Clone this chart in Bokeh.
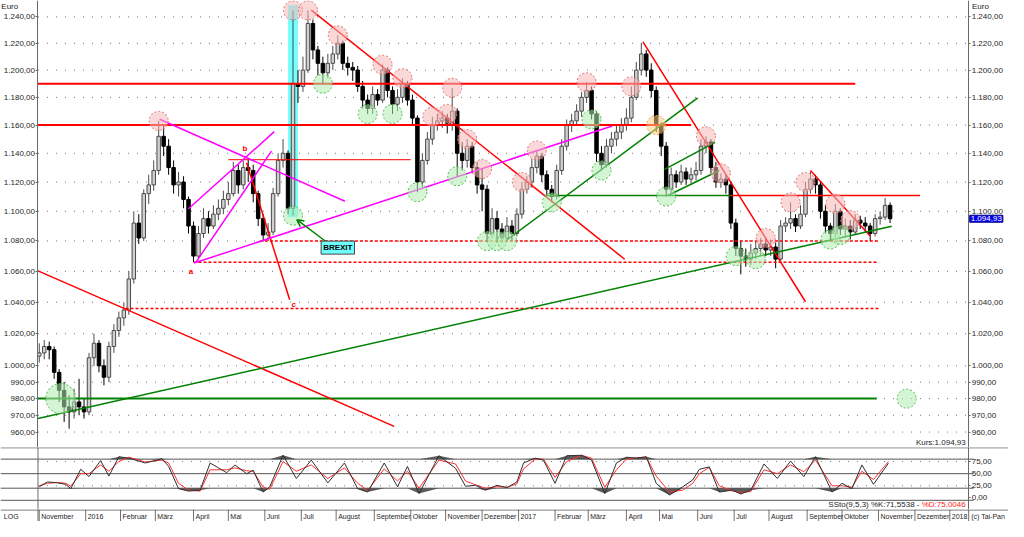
import numpy as np
import pandas as pd
from bokeh.plotting import figure
from bokeh.layouts import column
from bokeh.models import (Range1d, FixedTicker, LogAxis, LinearAxis, Label, Span,
                          Arrow, OpenHead, ColumnDataSource)
from bokeh.core.properties import value
from bokeh.embed import file_html
from bokeh.resources import INLINE

FONT = "Liberation Sans"

# ---------------- data ----------------
first_session = "2015-11-24"
bar_step = 3            # trading sessions per drawn bar
open_first = 1006
close = [
    1008, 1012, 1010, 996, 985, 975, 972, 978, 975, 972,
    1005, 1014, 1000, 993, 1012, 1022, 1030, 1035, 1055, 1092,
    1082, 1112, 1118, 1128, 1152, 1145, 1130, 1118, 1120, 1108,
    1090, 1070, 1085, 1095, 1090, 1098, 1102, 1108, 1112, 1128,
    1118, 1130, 1128, 1112, 1095, 1084, 1086, 1112, 1135, 1140,
    1102, 1190, 1188, 1200, 1235, 1215, 1205, 1198, 1205, 1212,
    1220, 1205, 1202, 1200, 1188, 1178, 1172, 1182, 1178, 1200,
    1185, 1175, 1180, 1190, 1178, 1165, 1120, 1135, 1150, 1160,
    1163, 1165, 1160, 1170, 1140, 1135, 1145, 1130, 1118, 1115,
    1085, 1095, 1088, 1082, 1090, 1085, 1098, 1115, 1120, 1130,
    1138, 1125, 1115, 1110, 1128, 1145, 1160, 1163, 1170, 1180,
    1185, 1168, 1140, 1132, 1145, 1150, 1155, 1160, 1165, 1180,
    1200, 1212, 1200, 1185, 1160, 1145, 1115, 1125, 1120, 1127,
    1122, 1125, 1128, 1145, 1148, 1130, 1120, 1122, 1118, 1092,
    1075, 1070, 1068, 1072, 1075, 1078, 1074, 1076, 1068, 1090,
    1092, 1095, 1090, 1098, 1115, 1122, 1118, 1100, 1090, 1085,
    1100, 1088, 1090, 1086, 1094, 1092, 1090, 1085, 1095, 1096,
    1104, 1094.93]
high = [
    1014, 1016, 1015, 1012, 998, 990, 982, 986, 992, 980,
    1008, 1020, 1016, 1004, 1015, 1026, 1034, 1040, 1060, 1100,
    1098, 1115, 1125, 1135, 1163, 1160, 1150, 1135, 1127, 1124,
    1110, 1093, 1090, 1102, 1100, 1104, 1108, 1114, 1120, 1134,
    1132, 1135, 1136, 1132, 1114, 1098, 1092, 1116, 1140, 1150,
    1142, 1245, 1200, 1210, 1245, 1238, 1218, 1210, 1212, 1218,
    1226, 1222, 1210, 1206, 1203, 1192, 1182, 1188, 1186, 1204,
    1202, 1188, 1186, 1194, 1192, 1182, 1167, 1140, 1155, 1166,
    1168, 1170, 1168, 1187, 1172, 1148, 1150, 1148, 1134, 1129,
    1118, 1102, 1100, 1092, 1096, 1094, 1102, 1120, 1124, 1136,
    1142, 1140, 1128, 1118, 1132, 1150, 1164, 1168, 1175, 1184,
    1191, 1188, 1170, 1145, 1150, 1155, 1160, 1165, 1172, 1188,
    1206, 1220, 1215, 1205, 1188, 1162, 1148, 1130, 1128, 1132,
    1130, 1130, 1134, 1150, 1152, 1150, 1134, 1126, 1125, 1120,
    1095, 1080, 1075, 1078, 1080, 1082, 1082, 1081, 1079, 1094,
    1096, 1106, 1098, 1104, 1120, 1127, 1125, 1120, 1104, 1092,
    1105, 1102, 1095, 1094, 1098, 1097, 1096, 1092, 1098, 1100,
    1109, 1106]
low = [
    1002, 1004, 1004, 992, 978, 966, 962, 968, 970, 968,
    970, 1000, 996, 988, 990, 1008, 1018, 1025, 1032, 1052,
    1078, 1080, 1105, 1114, 1125, 1138, 1125, 1112, 1110, 1102,
    1085, 1066, 1068, 1082, 1085, 1088, 1094, 1098, 1104, 1110,
    1112, 1115, 1120, 1106, 1090, 1080, 1080, 1084, 1110, 1130,
    1098, 1097, 1176, 1184, 1198, 1208, 1196, 1190, 1194, 1200,
    1208, 1200, 1196, 1192, 1184, 1172, 1168, 1168, 1174, 1176,
    1180, 1168, 1170, 1176, 1174, 1160, 1113, 1116, 1132, 1146,
    1156, 1158, 1154, 1156, 1124, 1128, 1130, 1126, 1112, 1100,
    1080, 1082, 1080, 1079, 1080, 1080, 1083, 1095, 1112, 1116,
    1126, 1120, 1110, 1106, 1108, 1125, 1142, 1155, 1160, 1166,
    1176, 1164, 1134, 1128, 1130, 1140, 1145, 1150, 1156, 1162,
    1178, 1196, 1195, 1180, 1155, 1138, 1110, 1112, 1116, 1118,
    1118, 1119, 1121, 1125, 1140, 1126, 1116, 1116, 1112, 1088,
    1070, 1058, 1063, 1064, 1068, 1070, 1070, 1070, 1062, 1066,
    1086, 1088, 1086, 1088, 1096, 1112, 1112, 1095, 1085, 1081,
    1082, 1084, 1083, 1081, 1084, 1088, 1086, 1080, 1083, 1091,
    1094, 1092]
last_price = 1094.93

y_ticks = [960, 970, 980, 990, 1000, 1020, 1040, 1060, 1080, 1100, 1120,
           1140, 1160, 1180, 1200, 1220, 1240]

# horizontal levels (price, first session, last session)
level_price = [1190.0, 1160.0, 1135.5, 1110.7, 1110.7, 980.0]
level_start = [-0.77, -0.77, 114, 306, 417, -0.77]
level_end = [492, 393, 224, 417, 531, 505]
level_color = ["#ff0000", "#ff0000", "#ff0000", "#008000", "#ff0000", "#008000"]
level_width = [2, 2, 1, 1.5, 1.5, 2]

dashed_price = [1080.0, 1066.0, 1036.0]
dashed_start = [133, 93, 52]
dashed_end = [506, 506, 506]

# trend lines: (session0, price0, session1, price1)
red_trends = [(-0.77, 1060.3, 214, 963.4), (164, 1245.2, 353, 1067.9),
              (364, 1221.0, 462, 1040.3), (465, 1128.0, 501, 1083.3),
              (125, 1133.4, 151, 1041.6)]
green_trends = [(-0.77, 968.0, 514, 1089.8), (282, 1080.7, 397, 1179.6),
                (377, 1128.7, 407.5, 1147.7), (379, 1110.7, 410, 1128.0)]
magenta_trends = [(72.6, 1164.2, 184.3, 1106.8), (93.3, 1065.4, 345.5, 1159.4),
                  (94.5, 1066.0, 140, 1141.5), (89.8, 1101.5, 141.7, 1155.3)]

peak_bars = [24, 51, 54, 60, 69, 73, 79, 82, 83, 86, 89, 97, 100, 110, 119,
             134, 137, 146, 151, 154, 160, 163]
trough_bars = [51, 57, 66, 71, 76, 84, 90, 92, 94, 103, 111, 113, 126, 140,
               144, 159, 161]
gap_bars = [124]
support_session = [13, 523]
support_price = [980.0, 980.0]

wave_text = ["a", "b", "c"]
wave_session = [91.5, 124, 153.5]
wave_price = [1060.0, 1143.5, 1038.4]

brexit_session = [150, 156]
brexit_price = [1096.0, 1249.0]
brexit_label_at = (180, 1075.6)
brexit_arrow = (172.4, 1080.0, 155.3, 1094.3)

# slow stochastic (9,5,3)
osc_session = [0, 5, 11, 16, 19, 25, 30, 37, 42, 48, 54, 64, 74, 78, 84, 90, 97,
               103, 113, 118, 125, 129, 135, 139, 147, 155, 164, 174, 184, 192,
               198, 208, 216, 222, 229, 241, 251, 257, 263, 269, 276, 282, 288,
               292, 299, 304, 311, 318, 327, 333, 341, 348, 354, 360, 366, 372,
               380, 388, 394, 398, 404, 410, 418, 423, 429, 437, 445, 453, 461,
               468, 478, 484, 490, 496, 503, 512]
stoch_k = [23, 33, 31, 28, 19, 59, 44, 77, 45, 85, 82, 72, 81, 65, 19, 14, 16,
           72, 52, 68, 50, 57, 12, 23, 88, 40, 78, 31, 72, 19, 12, 72, 23, 65,
           9, 87, 61, 24, 26, 16, 26, 21, 33, 72, 82, 78, 30, 87, 88, 78, 9, 72,
           84, 82, 85, 30, 6, 23, 37, 59, 64, 12, 16, 8, 16, 70, 40, 76, 44, 85,
           12, 30, 19, 68, 28, 71.6]
stoch_d = [25, 30, 32, 30, 24, 50, 50, 68, 55, 75, 84, 74, 78, 72, 30, 16, 14,
           58, 58, 62, 56, 55, 22, 18, 75, 55, 68, 40, 62, 30, 15, 60, 35, 55,
           20, 78, 70, 35, 27, 20, 23, 22, 29, 60, 80, 80, 42, 75, 88, 82, 22,
           58, 80, 83, 84, 45, 12, 16, 30, 50, 63, 25, 14, 11, 13, 58, 50, 68,
           54, 78, 25, 25, 22, 55, 38, 75.0]
osc_ticks = [0, 25, 50, 75]
osc_grid = [25, 75]
osc_levels = [80, 50, 20, -5]
k_last, d_last = 71.5538, 75.0046

GER = ["Januar", "Februar", "März", "April", "Mai", "Juni", "Juli", "August",
       "September", "Oktober", "November", "Dezember"]

assert len(close) == len(high) == len(low)
assert len(osc_session) == len(stoch_k) == len(stoch_d)


def de(v, dec=2):
    s = f"{v:,.{dec}f}"
    return s.replace(",", "#").replace(".", ",").replace("#", ".")


# ---------------- layout ----------------
W = 1008
H_MAIN, H_OSC, H_DATE = 447, 62, 12
x_start, x_end = -0.77, 560.4          # sessions at the two axis lines
XL, XR = x_start - 22.6, x_end + 24.0   # room for the axis labels
xr = Range1d(XL, XR)
AX_COL = "#6a6a6a"
TXT_COL = "#1e1e1e"


def fig(h, yr, **kw):
    f = figure(width=W, height=h, x_range=xr, y_range=yr, output_backend="svg",
               toolbar_location=None, min_border_left=0, min_border_right=0,
               min_border_top=0, min_border_bottom=0, x_axis_location=None,
               y_axis_location=None, **kw)
    f.outline_line_color = None
    f.background_fill_color = "white"
    f.border_fill_color = "white"
    f.xgrid.visible = False
    f.ygrid.visible = False
    return f


def axis(cls, ticks, loc):
    ax = cls(ticker=FixedTicker(ticks=ticks), fixed_location=loc)
    ax.major_label_overrides = {t: de(t) for t in ticks}
    ax.major_label_text_font = FONT
    ax.major_label_text_font_size = "8px"
    ax.major_label_text_color = TXT_COL
    ax.axis_line_color = AX_COL
    ax.major_tick_line_color = AX_COL
    ax.major_tick_in = 0
    ax.major_tick_out = 2
    ax.minor_tick_line_color = None
    ax.major_label_standoff = 1
    return ax


def text_label(f, x, y, txt, align="left", color=TXT_COL, y_units="screen", **kw):
    f.add_layout(Label(x=x, y=y, y_units=y_units, text=txt, text_font=FONT,
                       text_font_size=kw.pop("size", "8px"), text_color=color,
                       text_align=align, text_baseline="middle", **kw))


# ---------------- main price panel ----------------
p = fig(H_MAIN, Range1d(950.9, 1252.6), y_axis_type="log")
p.add_layout(axis(LogAxis, y_ticks, x_start), "left")
p.add_layout(axis(LogAxis, y_ticks, x_end), "right")

# dotted grid between the two axes
p.segment(x0=[x_start] * len(y_ticks), x1=[x_end] * len(y_ticks), y0=y_ticks,
          y1=y_ticks, line_color="#707070", line_width=1, line_dash="1 8")

# brexit highlight
p.quad(left=[brexit_session[0]], right=[brexit_session[1]], bottom=[brexit_price[0]],
       top=[brexit_price[1]], fill_color="#66ffff", line_color=None, fill_alpha=0.9)

# candles
n = len(close)
bar_x = np.arange(n) * bar_step
opens = np.array([open_first] + close[:-1], dtype=float)
closes = np.array(close, dtype=float)
up = closes >= opens
src = ColumnDataSource(dict(
    x=bar_x, h=high, l=low,
    top=np.maximum(opens, closes), bot=np.minimum(opens, closes),
    fill=np.where(up, "#d0d0d0", "#000000"),
    line=np.where(up, "#4a4a4a", "#000000")))
p.segment(x0="x", x1="x", y0="l", y1="h", source=src, line_color="line", line_width=1)
p.vbar(x="x", width=2.1, top="top", bottom="bot", source=src,
       fill_color="fill", line_color="line", line_width=1)

# levels
p.segment(x0=level_start, x1=level_end, y0=level_price, y1=level_price,
          line_color=level_color, line_width=level_width)
p.segment(x0=dashed_start, x1=dashed_end, y0=dashed_price, y1=dashed_price,
          line_color="#ff0000", line_width=1.5, line_dash="3 2")

for trends, col in ((red_trends, "#ff0000"), (green_trends, "#008000"),
                    (magenta_trends, "#ff00ff")):
    p.segment(x0=[t[0] for t in trends], y0=[t[1] for t in trends],
              x1=[t[2] for t in trends], y1=[t[3] for t in trends],
              line_color=col, line_width=1.5)

# circles
circ = dict(line_dash="2 2", line_width=1, fill_alpha=0.55)
p.scatter([bar_x[k] for k in peak_bars], [high[k] for k in peak_bars], size=19,
          fill_color="#f6b8b8", line_color="#e07070", **circ)
p.scatter([bar_x[k] for k in trough_bars], [low[k] for k in trough_bars], size=19,
          fill_color="#b0ecb0", line_color="#50b850", **circ)
p.scatter([bar_x[k] for k in gap_bars], [close[k] for k in gap_bars], size=19,
          fill_color="#ffcc80", line_color="#f0a040", **circ)
p.scatter(support_session, support_price, size=[30, 19],
          fill_color="#b0ecb0", line_color="#50b850", **circ)

p.text(x=wave_session, y=wave_price, text=wave_text, text_color="#ff0000",
       text_font=value(FONT), text_font_size="8px", text_font_style="bold",
       text_align="center", text_baseline="middle")

p.add_layout(Arrow(end=OpenHead(size=7, line_color="#008000", line_width=1.5),
                   x_start=brexit_arrow[0], y_start=brexit_arrow[1],
                   x_end=brexit_arrow[2], y_end=brexit_arrow[3],
                   line_color="#008000", line_width=1.5))
p.add_layout(Label(x=brexit_label_at[0], y=brexit_label_at[1], text="BREXIT",
                   text_font=FONT, text_font_size="8px", text_font_style="bold",
                   text_color="#000000", text_align="center", text_baseline="middle",
                   background_fill_color="#70ffff", border_line_color="#444444",
                   padding=2))

text_label(p, XL + 0.5, H_MAIN - 6, "Euro")
text_label(p, x_end + 2.0, H_MAIN - 6, "Euro")
p.add_layout(Label(x=x_end, x_offset=1, y=last_price, text=de(last_price),
                   text_font=FONT, text_font_size="8px", text_color="#ffffff",
                   text_baseline="middle", background_fill_color="#0000ee",
                   border_line_color="#000088", padding=1))
p.add_layout(Label(x=x_end, x_offset=-3, y=5, y_units="screen",
                   text="Kurs:" + de(last_price), text_font=FONT,
                   text_font_size="8px", text_align="right",
                   text_baseline="middle", text_color=TXT_COL))

# ---------------- stochastic panel ----------------
q = fig(H_OSC, Range1d(-24, 104))
q.add_layout(axis(LinearAxis, osc_ticks, x_end), "right")
q.add_layout(Span(location=x_start, dimension="height", line_color=AX_COL, line_width=1))
q.add_layout(Span(location=103.4, dimension="width", line_color="#555555", line_width=1))
q.segment(x0=[XL] * len(osc_levels), x1=[x_end + 3] * len(osc_levels),
          y0=osc_levels, y1=osc_levels, line_color="#555555", line_width=1)
q.segment(x0=[x_start] * len(osc_grid), x1=[x_end] * len(osc_grid),
          y0=osc_grid, y1=osc_grid, line_color="#777777", line_dash="1 8")
kk = np.array(stoch_k, dtype=float)
q.varea(x=osc_session, y1=np.full(len(kk), 80.0), y2=np.maximum(kk, 80),
        fill_color="#404040", fill_alpha=0.85)
q.varea(x=osc_session, y1=np.minimum(kk, 20), y2=np.full(len(kk), 20.0),
        fill_color="#404040", fill_alpha=0.85)
q.line(osc_session, stoch_d, line_color="#ff3030", line_width=1)
q.line(osc_session, stoch_k, line_color="#303030", line_width=1)
q.add_layout(Label(x=x_end, x_offset=-3, y=5, y_units="screen",
                   text="%D:" + de(d_last, 4), text_font=FONT, text_font_size="8px",
                   text_align="right", text_baseline="middle", text_color="#ff2020"))
q.add_layout(Label(x=x_end, x_offset=-47, y=5, y_units="screen",
                   text="SSto(9,5,3) %K:" + de(k_last, 4) + " - ", text_font=FONT,
                   text_font_size="8px", text_align="right", text_baseline="middle",
                   text_color=TXT_COL))

# ---------------- date strip ----------------
sessions = pd.bdate_range(first_session, periods=600)
tick_pos, tick_txt = [0], [GER[sessions[0].month - 1]]
for i in range(1, len(sessions)):
    if i > x_end:
        break
    if sessions[i].month != sessions[i - 1].month:
        if i - tick_pos[-1] < 15:
            continue
        d = sessions[i]
        tick_pos.append(i)
        tick_txt.append(str(d.year) if d.month == 1 else GER[d.month - 1])

r = fig(H_DATE, Range1d(0, 1))
r.add_layout(Span(location=x_start, dimension="height", line_color=AX_COL, line_width=1))
r.add_layout(Span(location=x_end, dimension="height", line_color=AX_COL, line_width=1))
r.add_layout(Span(location=0.96, dimension="width", line_color="#555555", line_width=1))
r.segment(x0=tick_pos, x1=tick_pos, y0=[0] * len(tick_pos), y1=[1] * len(tick_pos),
          line_color="#707070", line_width=1)
r.text(x=tick_pos, y=[0.45] * len(tick_pos), text=tick_txt, x_offset=2,
       text_font=value(FONT), text_font_size="7px", text_color=TXT_COL,
       text_align="left", text_baseline="middle")
text_label(r, XL + 2, 0.45, "LOG", y_units="data", size="7px")
text_label(r, x_end + 1.5, 0.45, "(c) Tai-Pan", y_units="data", size="7px")

layout = column(p, q, r, spacing=0)
with open("out.html", "w", encoding="utf-8") as fh:
    fh.write(file_html(layout, INLINE, "Chart"))
